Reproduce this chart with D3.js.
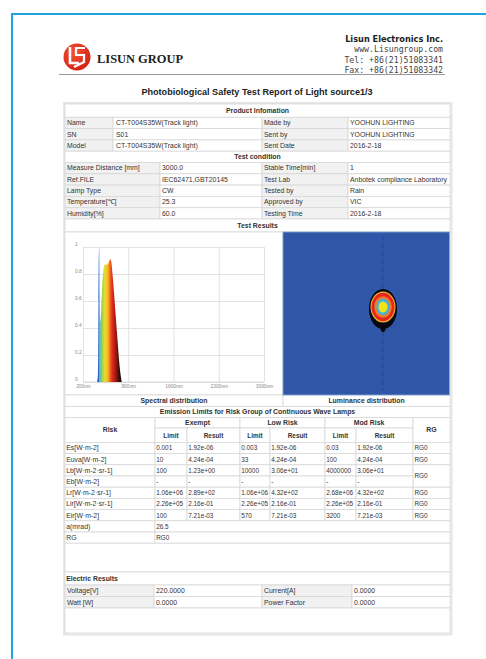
<!DOCTYPE html>
<html><head><meta charset="utf-8">
<script src="https://cdn.jsdelivr.net/npm/d3@7"></script>
<style>body{margin:0;background:#fff}svg{display:block}</style>
</head><body>
<svg id="c" width="486" height="659"></svg>
<script>
// ---------------- DATA ----------------
const companyName = "LISUN GROUP";
const companyLines = ["Lisun Electronics Inc.", "www.Lisungroup.com", "Tel: +86(21)51083341", "Fax: +86(21)51083342"];
const reportTitle = "Photobiological Safety Test Report of Light source1/3";

const productHeader = "Product Infomation";
const productRows = [
  ["Name", "CT-T004S35W(Track light)", "Made by", "YOOHUN LIGHTING"],
  ["SN", "S01", "Sent by", "YOOHUN LIGHTING"],
  ["Model", "CT-T004S35W(Track light)", "Sent Date", "2016-2-18"]
];
const conditionHeader = "Test condition";
const conditionRows = [
  ["Measure Distance [mm]", "3000.0", "Stable Time[min]", "1"],
  ["Ref.FILE", "IEC62471,GBT20145", "Test Lab", "Anbotek compliance Laboratory"],
  ["Lamp Type", "CW", "Tested by", "Rain"],
  ["Temperature[\u2103]", "25.3", "Approved by", "VIC"],
  ["Humidity[%]", "60.0", "Testing Time", "2016-2-18"]
];
const resultsHeader = "Test Results";
const panelTitles = ["Spectral distribution", "Luminance distribution"];

// spectral power distribution (relative)
const wavelengths = [420, 430, 435, 440, 445, 450, 455, 460, 465, 470, 480, 490, 500, 510, 520, 530, 540, 550, 560, 570, 580, 590, 600, 610, 620, 630, 640, 660, 680, 700, 720, 740, 760, 780, 800];
const intensity   = [0, 0.05, 0.2, 0.6, 0.95, 1.0, 0.9, 0.62, 0.47, 0.44, 0.52, 0.64, 0.74, 0.8, 0.84, 0.86, 0.87, 0.87, 0.87, 0.87, 0.87, 0.88, 0.89, 0.9, 0.91, 0.905, 0.88, 0.78, 0.66, 0.53, 0.4, 0.27, 0.15, 0.06, 0];
const xTicks = [200, 900, 1600, 2300, 3000];
const xTickLabels = ["200nm", "900nm", "1600nm", "2300nm", "3000nm"];
const yTicks = [0, 0.2, 0.4, 0.6, 0.8, 1];
const yTickLabels = ["0", "0.2", "0.4", "0.6", "0.8", "1"];

// luminance distribution: relative level contours
const lumLevels = [0.05, 0.25, 0.35, 0.6, 0.8, 1.0];

// emission limits table
const emissionTitle = "Emission Limits for Risk Group of Continuous Wave Lamps";
const riskGroups = ["Exempt", "Low Risk", "Mod Risk"];
const riskParams   = ["Es[W\u00b7m-2]", "Euva[W\u00b7m-2]", "Lb[W\u00b7m-2\u00b7sr-1]", "Eb[W\u00b7m-2]", "Lr[W\u00b7m-2\u00b7sr-1]", "Lir[W\u00b7m-2\u00b7sr-1]", "Eir[W\u00b7m-2]"];
const exemptLimit  = ["0.001", "10", "100", "-", "1.06e+06", "2.26e+05", "100"];
const exemptResult = ["1.92e-06", "4.24e-04", "1.23e+00", "-", "2.89e+02", "2.16e-01", "7.21e-03"];
const lowLimit     = ["0.003", "33", "10000", "-", "1.06e+06", "2.26e+05", "570"];
const lowResult    = ["1.92e-06", "4.24e-04", "3.06e+01", "-", "4.32e+02", "2.16e-01", "7.21e-03"];
const modLimit     = ["0.03", "100", "4000000", "-", "2.68e+06", "2.26e+05", "3200"];
const modResult    = ["1.92e-06", "4.24e-04", "3.06e+01", "-", "4.32e+02", "2.16e-01", "7.21e-03"];
const rgValues     = ["RG0", "RG0", "RG0", "RG0", "RG0", "RG0", "RG0"];
const alphaRow = ["a(mrad)", "26.5"];
const rgRow = ["RG", "RG0"];
const electricHeader = "Electric Results";
const electricRows = [
  ["Voltage[V]", "220.0000", "Current[A]", "0.0000"],
  ["Watt [W]", "0.0000", "Power Factor", "0.0000"]
];

// ---------------- DRAWING ----------------
const svg = d3.select("#c");
const defs = svg.append("defs");
const FONT = "'Liberation Sans', Arial, sans-serif";
const BORDER = "#d8d8d8", LABEL_BG = "#f1f1f1", TXT = "#333";
const FS = 6.9, FS_E = 6.4;
let clipId = 0;

// page frame
svg.append("rect").attr("x", 12).attr("y", 14).attr("width", 520).attr("height", 700)
  .attr("fill", "none").attr("stroke", "#1ea3e3").attr("stroke-width", 2);

// logo
const logo = svg.append("g");
const lg = defs.append("radialGradient").attr("id", "logoG").attr("cx", "40%").attr("cy", "35%").attr("r", "70%");
lg.append("stop").attr("offset", 0).attr("stop-color", "#f5553a");
lg.append("stop").attr("offset", 1).attr("stop-color", "#d41e10");
logo.append("circle").attr("cx", 77).attr("cy", 57).attr("r", 13.5).attr("fill", "url(#logoG)");
logo.append("path").attr("d", "M70,47 L70,63 L79,63").attr("fill", "none").attr("stroke", "#fff").attr("stroke-width", 2.6);
logo.append("path").attr("d", "M85,48 L76,48 L76,55 L84,55 L84,62 L74,67").attr("fill", "none").attr("stroke", "#fff").attr("stroke-width", 2.2);
svg.append("text").attr("x", 97).attr("y", 62.5).attr("font-family", "'Liberation Serif', 'Times New Roman', serif")
  .attr("font-weight", "bold").attr("font-size", 13.5).attr("fill", "#222")
  .attr("textLength", 86).attr("lengthAdjust", "spacingAndGlyphs").text(companyName);

// company info (right aligned)
const infoY = [41.5, 52.3, 62.7, 72.7];
companyLines.forEach((t, i) => {
  svg.append("text").attr("x", 443).attr("y", infoY[i]).attr("text-anchor", "end")
    .attr("font-family", i === 0 ? "'DejaVu Sans', Verdana, sans-serif" : "'DejaVu Sans Mono', monospace")
    .attr("font-weight", i === 0 ? "bold" : "normal")
    .attr("font-size", 8.2).attr("fill", i === 0 ? "#222" : "#444")
    .text(t);
});
svg.append("line").attr("x1", 59).attr("x2", 445).attr("y1", 74.5).attr("y2", 74.5)
  .attr("stroke", "#9a9a9a").attr("stroke-width", 1.2);

svg.append("text").attr("x", 257).attr("y", 95).attr("text-anchor", "middle")
  .attr("font-family", FONT).attr("font-weight", "bold").attr("font-size", 9.1).attr("fill", "#222").text(reportTitle);

// table shadow
svg.append("rect").attr("x", 64).attr("y", 103).attr("width", 387.5).attr("height", 531.5)
  .attr("fill", "none").attr("stroke", "#e6e6e6").attr("stroke-width", 2);

function cell(x0, x1, y0, y1, text, o = {}) {
  const g = svg.append("g");
  g.append("rect").attr("x", x0).attr("y", y0).attr("width", x1 - x0).attr("height", y1 - y0)
    .attr("fill", o.fill || "#fff").attr("stroke", BORDER).attr("stroke-width", 0.8);
  if (text !== undefined && text !== null && text !== "") {
    const a = o.align || "start";
    const pad = o.pad === undefined ? 2 : o.pad;
    const tx = a === "middle" ? (x0 + x1) / 2 : (a === "end" ? x1 - pad : x0 + pad);
    const t = g.append("text").attr("x", tx).attr("y", (y0 + y1) / 2 + 2.3).attr("text-anchor", a)
      .attr("font-family", FONT).attr("font-size", o.size || FS).attr("font-weight", o.bold ? "bold" : "normal")
      .attr("fill", TXT).text(text);
    if (o.clip) {
      const id = "clip" + (clipId++);
      defs.append("clipPath").attr("id", id).append("rect").attr("x", x0).attr("y", y0).attr("width", x1 - x0 - 1).attr("height", y1 - y0);
      t.attr("clip-path", `url(#${id})`);
    }
  }
}

const L = 65, R = 450;
// product info
cell(L, R, 104, 117.3, productHeader, { align: "middle", bold: true });
const pCols = [65, 113, 262, 348, 450];
let yy = 117.3;
const rh = 11.3;
productRows.forEach(r => {
  r.forEach((v, j) => cell(pCols[j], pCols[j + 1], yy, yy + rh, v, { fill: j % 2 === 0 ? LABEL_BG : "#fff", pad: j === 1 ? 3 : 2 }));
  yy += rh;
});
cell(L, R, yy, yy + rh, conditionHeader, { align: "middle", bold: true });
yy += rh;
const cCols = [65, 160, 262, 348, 450];
conditionRows.forEach(r => {
  r.forEach((v, j) => cell(cCols[j], cCols[j + 1], yy, yy + rh, v, { fill: j % 2 === 0 ? LABEL_BG : "#fff", clip: j === 3 }));
  yy += rh;
});
cell(L, R, yy, 232, resultsHeader, { align: "middle", bold: true });

// chart panels
cell(L, 283, 232, 395, "");
cell(283, R, 232, 395, "");
cell(L, 283, 395, 406.5, panelTitles[0], { align: "middle", bold: true });
cell(283, R, 395, 406.5, panelTitles[1], { align: "middle", bold: true });

// ---- spectral chart
const x = d3.scaleLinear().domain([200, 3000]).range([83, 264]);
const y = d3.scaleLinear().domain([0, 1]).range([382, 247]);
const gx = svg.append("g").attr("transform", `translate(0,${y(0)})`)
  .call(d3.axisBottom(x).tickValues(xTicks).tickFormat((d, i) => xTickLabels[i]).tickSize(-(y(0) - y(1))).tickPadding(2.5));
const gy = svg.append("g").attr("transform", `translate(${x(200)},0)`)
  .call(d3.axisLeft(y).tickValues(yTicks).tickFormat((d, i) => yTickLabels[i]).tickSize(-(x(3000) - x(200))));
[gx, gy].forEach(g => {
  g.select(".domain").remove();
  g.selectAll(".tick line").attr("stroke", "#dcdcdc").attr("stroke-width", 0.8);
  g.selectAll(".tick text").attr("font-family", FONT).attr("font-size", 4.8).attr("fill", "#888");
});
gy.selectAll(".tick text").attr("text-anchor", "start").attr("x", -8).attr("dy", "-0.35em");
svg.append("line").attr("x1", x(200)).attr("x2", x(3000)).attr("y1", y(0)).attr("y2", y(0)).attr("stroke", "#cfcfcf").attr("stroke-width", 0.8);

const specG = defs.append("linearGradient").attr("id", "spec").attr("gradientUnits", "userSpaceOnUse")
  .attr("x1", x(400)).attr("x2", x(800)).attr("y1", 0).attr("y2", 0);
const ramp = [[400, "#3a2aa8"], [432, "#1f58c8"], [445, "#2a74da"], [456, "#62aeea"], [468, "#66c4b8"], [485, "#8ccc50"], [505, "#b4d440"], [540, "#e8dc30"], [570, "#f6c428"], [595, "#f49e24"], [620, "#ee6220"], [650, "#de2e1c"], [690, "#b81c14"], [725, "#7c1410"], [755, "#3e0c0a"], [790, "#150808"]];
ramp.forEach(([w, c]) => specG.append("stop").attr("offset", (w - 400) / 400).attr("stop-color", c));
const area = d3.area().x((d, i) => x(wavelengths[i])).y0(y(0)).y1(d => y(d)).curve(d3.curveMonotoneX);
svg.append("path").datum(intensity).attr("d", area).attr("fill", "url(#spec)");

// ---- luminance distribution
const img = { x0: 283, x1: 449.5, y0: 232, y1: 395 };
svg.append("rect").attr("x", img.x0).attr("y", img.y0).attr("width", img.x1 - img.x0).attr("height", img.y1 - img.y0)
  .attr("fill", "#2f56a7").attr("stroke", "#88a6dc").attr("stroke-width", 0.8);
const cx = 383, cy = 307;
svg.append("line").attr("x1", cx).attr("x2", cx).attr("y1", 236).attr("y2", 390)
  .attr("stroke", "#24318c").attr("stroke-width", 1).attr("stroke-dasharray", "5,3").attr("opacity", 0.5);
const rxS = d3.scaleLinear().domain([0.05, 0.25, 1]).range([14, 12.5, 4.5]);
const ryS = d3.scaleLinear().domain([0.05, 0.25, 1]).range([20, 15.5, 5.5]);
const lumColor = d3.scaleOrdinal().domain(lumLevels).range(["#07070f", "#f2b232", "#e4261c", "#f07a28", "#3ab6e2", "#f2e21a"]);
svg.append("ellipse").attr("cx", cx).attr("cy", cy + 21).attr("rx", 2.5).attr("ry", 4).attr("fill", "#07070f");
svg.append("g").selectAll("ellipse").data(lumLevels).join("ellipse")
  .attr("cx", cx).attr("cy", (d, i) => i === 0 ? cy + 2 : cy)
  .attr("rx", d => rxS(d)).attr("ry", d => ryS(d)).attr("fill", d => lumColor(d));

// ---- emission table
cell(L, R, 406.5, 417.5, emissionTitle, { align: "middle", bold: true });
const eCols = [65, 155, 187, 240, 270, 325, 356, 413, 450];
cell(eCols[0], eCols[1], 417.5, 442.4, "Risk", { align: "middle", bold: true });
riskGroups.forEach((g, i) => {
  cell(eCols[1 + 2 * i], eCols[3 + 2 * i], 417.5, 428, g, { align: "middle", bold: true });
  cell(eCols[1 + 2 * i], eCols[2 + 2 * i], 428, 442.4, "Limit", { align: "middle", bold: true, size: FS_E });
  cell(eCols[2 + 2 * i], eCols[3 + 2 * i], 428, 442.4, "Result", { align: "middle", bold: true, size: FS_E });
});
cell(eCols[7], eCols[8], 417.5, 442.4, "RG", { align: "middle", bold: true });
const erh = 11.2;
let ey = 442.4;
riskParams.forEach((p, i) => {
  const vals = [p, exemptLimit[i], exemptResult[i], lowLimit[i], lowResult[i], modLimit[i], modResult[i]];
  vals.forEach((v, j) => cell(eCols[j], eCols[j + 1], ey, ey + erh, v, { pad: 1.2, size: j === 0 ? FS : FS_E }));
  if (i === 2) cell(eCols[7], eCols[8], ey, ey + 2 * erh, rgValues[i], { pad: 1.5, size: FS_E });
  else if (i !== 3) cell(eCols[7], eCols[8], ey, ey + erh, rgValues[i], { pad: 1.5, size: FS_E });
  ey += erh;
});
[alphaRow, rgRow].forEach(r => {
  cell(eCols[0], eCols[1], ey, ey + erh, r[0], { pad: 1.2 });
  cell(eCols[1], R, ey, ey + erh, r[1], { pad: 1.2, size: FS_E });
  ey += erh;
});
cell(L, R, ey, 572, "");
cell(L, R, 572, 585, electricHeader, { bold: true, pad: 1.2 });
const vCols = [65, 154, 262, 352, 450];
let vy = 585;
electricRows.forEach(r => {
  r.forEach((v, j) => cell(vCols[j], vCols[j + 1], vy, vy + 11.5, v, { fill: j % 2 === 0 ? LABEL_BG : "#fff" }));
  vy += 11.5;
});
cell(L, R, vy, 633, "");
</script>
</body></html>
